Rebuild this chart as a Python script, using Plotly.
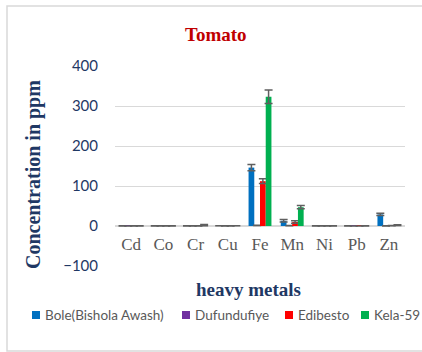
import plotly.graph_objects as go

# Heavy metal concentrations (ppm) in tomato, by sampling site
metals = ["Cd", "Co", "Cr", "Cu", "Fe", "Mn", "Ni", "Pb", "Zn"]
sites = ["Bole(Bishola Awash)", "Dufundufiye", "Edibesto", "Kela-59"]

bole = [0.3, 0.4, 0.5, 0.6, 146, 13, 0.4, 0.3, 29]
bole_err = [0.2, 0.2, 0.3, 0.2, 8, 3, 0.2, 0.2, 3]

dufundufiye = [0.2, 0.3, 0.4, 0.5, 1.5, 1.0, 0.3, 0.2, 0.6]
dufundufiye_err = [0.1, 0.1, 0.2, 0.2, 0.5, 0.4, 0.1, 0.1, 0.3]

edibesto = [0.3, 0.4, 0.6, 0.5, 112, 10, 0.3, 0.2, 0.8]
edibesto_err = [0.2, 0.2, 0.3, 0.2, 6, 3, 0.2, 0.1, 0.3]

kela = [0.4, 0.5, 2.0, 0.6, 323, 47, 0.5, 0.4, 2.0]
kela_err = [0.2, 0.2, 1.5, 0.2, 17, 4, 0.3, 0.2, 1.0]

series = [bole, dufundufiye, edibesto, kela]
errors = [bole_err, dufundufiye_err, edibesto_err, kela_err]
colors = ["#0070C0", "#7030A0", "#FF0000", "#00B050"]

W, H = 422, 352
L, R, T, B = 115, 17, 66, 86
plot_w = W - L - R
plot_h = H - T - B


def px_x(px):
    return (px - L) / plot_w


def px_y(py):
    return (H - B - py) / plot_h


fig = go.Figure()
for name, vals, err, col in zip(sites, series, errors, colors):
    fig.add_trace(go.Bar(
        x=metals, y=vals, name=name, marker_color=col,
        marker_line_width=0,
        error_y=dict(type="data", array=err, visible=True,
                     color="#5F5F5F", thickness=1.5, width=4),
        showlegend=False,
    ))

ink = "#1F3864"
serif = "Liberation Serif, Times New Roman, serif"
sans = "Lato, Open Sans, sans-serif"


def label(text, cx, cy, size, color, family, angle=0, xanchor="center"):
    return dict(text=text, x=px_x(cx), y=px_y(cy), xref="paper", yref="paper",
                xanchor=xanchor, yanchor="middle", showarrow=False, textangle=angle,
                font=dict(family=family, size=size, color=color))


annotations = [
    label("<b>Tomato</b>", 216, 34, 19, "#C00000", serif),
    label("<b>heavy metals</b>", 248, 289, 19, ink, serif),
    label("<b>Concentration in ppm</b>", 33, 175, 20, ink, serif, angle=-90),
]

shapes = [
    dict(type="rect", xref="paper", yref="paper",
         x0=px_x(7), x1=px_x(440), y0=px_y(6), y1=px_y(351),
         line=dict(color="#D9D9D9", width=1.5), fillcolor="rgba(0,0,0,0)", layer="below"),
]

# Legend row: colour swatch followed by the site name
legend_marker_x = [32, 182, 285, 361]
for name, col, mx in zip(sites, colors, legend_marker_x):
    shapes.append(dict(type="rect", xref="paper", yref="paper",
                       x0=px_x(mx), x1=px_x(mx + 8), y0=px_y(311), y1=px_y(319),
                       fillcolor=col, line=dict(width=0)))
    annotations.append(label(name, mx + 11, 315, 13.5, "#595959", sans, xanchor="left"))

fig.update_layout(
    width=W, height=H,
    margin=dict(l=L, r=R, t=T, b=B),
    paper_bgcolor="white", plot_bgcolor="white",
    barmode="group", bargap=0.29, bargroupgap=0,
    annotations=annotations, shapes=shapes,
    showlegend=False,
    xaxis=dict(
        type="category", range=[-0.5, 8.5],
        anchor="free", position=px_y(226),
        showline=False, showgrid=False, zeroline=False,
        ticks="", tickfont=dict(family=serif, size=17, color="#595959"),
        ticklabelstandoff=6,
    ),
    yaxis=dict(
        range=[-100, 400], dtick=100,
        showgrid=True, gridcolor="#D9D9D9", gridwidth=1,
        zeroline=True, zerolinecolor="#D9D9D9", zerolinewidth=1.5,
        showline=False, ticks="",
        tickfont=dict(family=sans, size=15, color=ink),
        ticklabelstandoff=16,
    ),
)

fig.write_html("out.html")
